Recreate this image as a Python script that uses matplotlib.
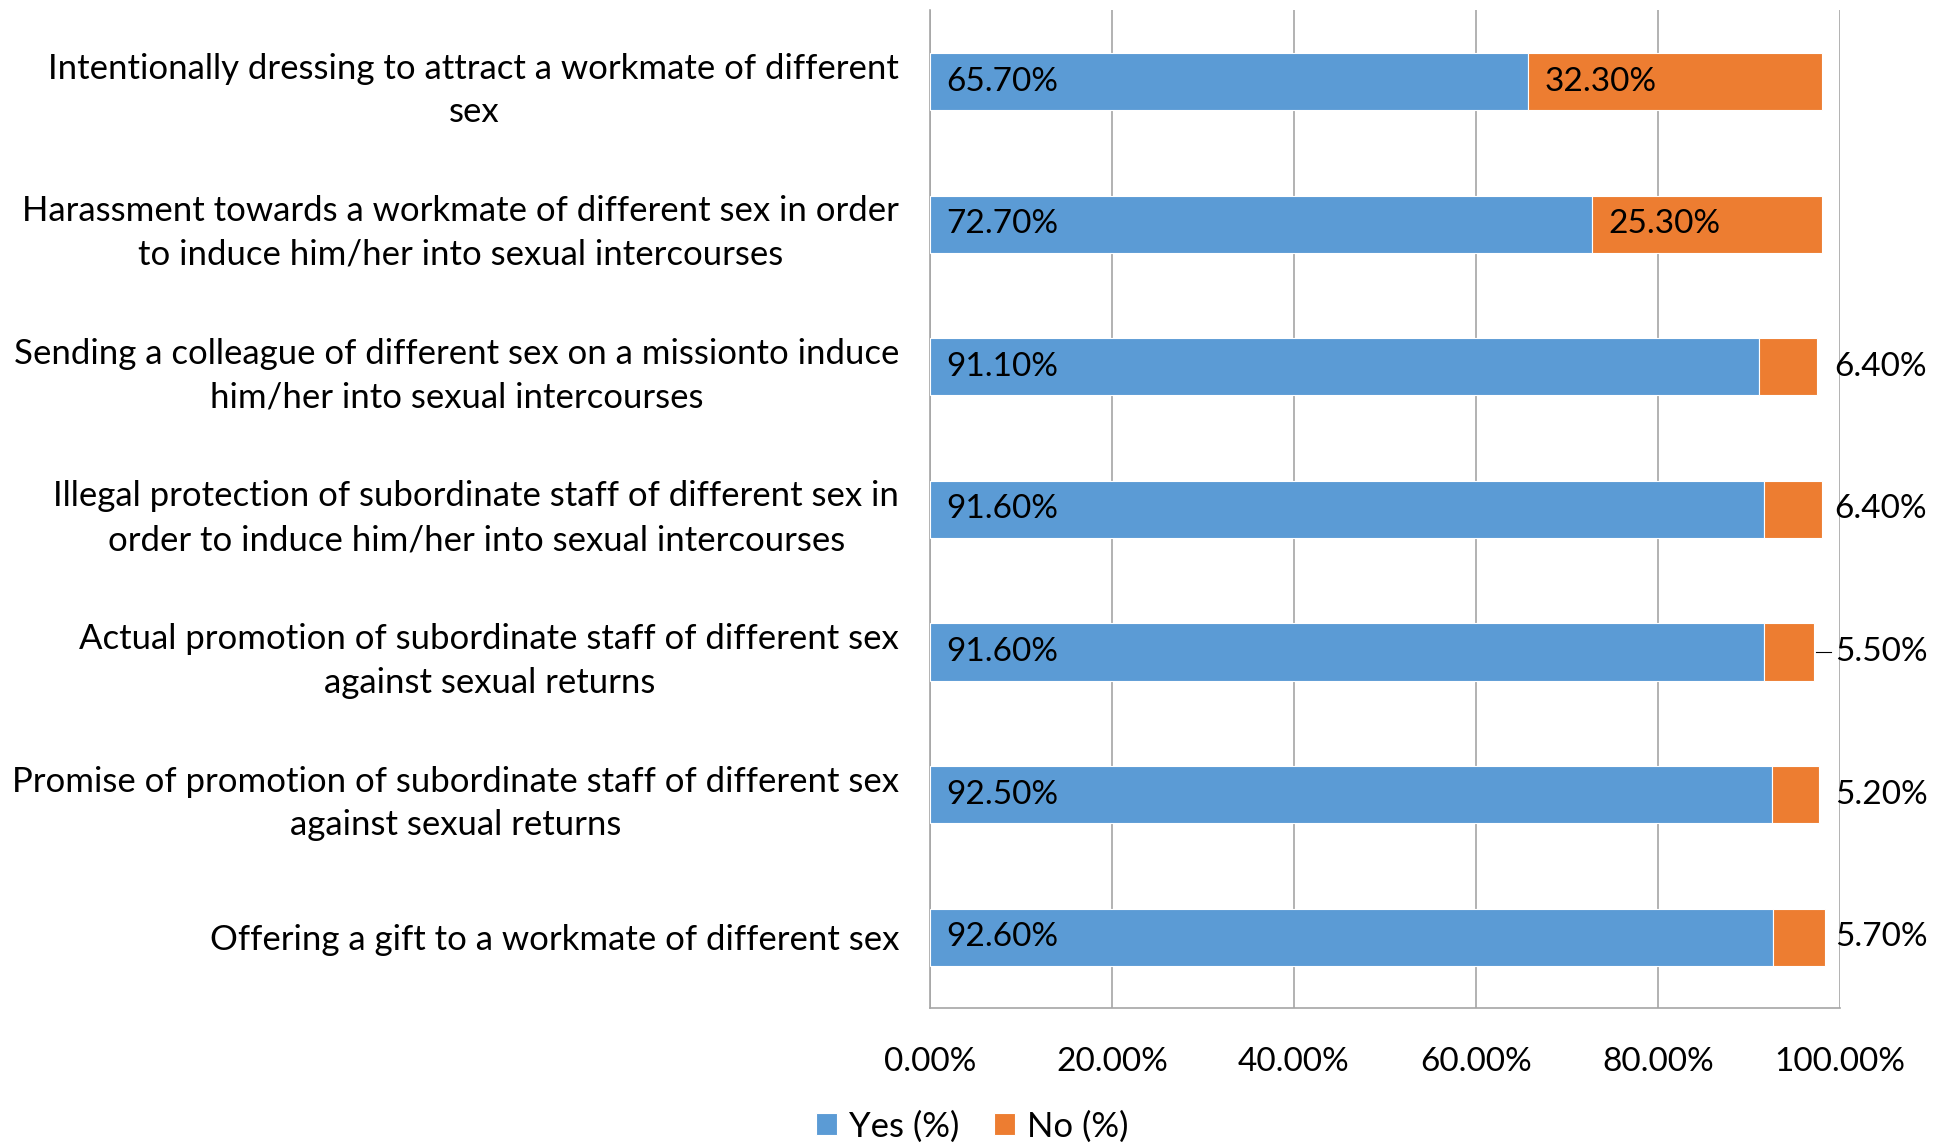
import matplotlib
matplotlib.use('agg')
import matplotlib.pyplot as plt
import numpy as np

CATEGORIES = [
    "Intentionally dressing to attract a workmate of different\nsex",
    "Harassment towards a workmate of different sex in order\nto induce him/her into sexual intercourses",
    "Sending a colleague of different sex on a missionto induce\nhim/her into sexual intercourses",
    "Illegal protection of subordinate staff of different sex in\norder to induce him/her into sexual intercourses",
    "Actual promotion of subordinate staff of different sex\nagainst sexual returns",
    "Promise of promotion of subordinate staff of different sex\nagainst sexual returns",
    "Offering a gift to a workmate of different sex",
]
YES = [65.7, 72.7, 91.1, 91.6, 91.6, 92.5, 92.6]
NO = [32.3, 25.3, 6.4, 6.4, 5.5, 5.2, 5.7]
XTICKS = [0, 20, 40, 60, 80, 100]

BLUE = '#5B9BD5'
ORANGE = '#ED7D31'
GRID = '#a6a6a6'
FS = 24
FS_CAT = 25

plt.rcParams['font.family'] = ['Lato', 'DejaVu Sans']

fig = plt.figure(figsize=(19.37, 11.46), dpi=100)
ax = fig.add_axes([0.480, 0.120, 0.470, 0.871])

y = np.arange(len(CATEGORIES))
yes = np.array(YES)
no = np.array(NO)

ax.barh(y, yes, height=0.4, color=BLUE, edgecolor='white', linewidth=0.8,
        label='Yes (%)', zorder=3)
ax.barh(y, no, left=yes, height=0.4, color=ORANGE, edgecolor='white',
        linewidth=0.8, label='No (%)', zorder=3)

# value labels
for i in range(len(y)):
    ax.text(1.8, y[i], '%.2f%%' % yes[i], va='center', ha='left',
            fontsize=FS, zorder=4)
    if no[i] > 10:
        ax.text(yes[i] + 1.8, y[i], '%.2f%%' % no[i], va='center',
                ha='left', fontsize=FS, zorder=4)
    else:
        ax.text(99.4, y[i], '%.2f%%' % no[i], va='center', ha='left',
                fontsize=FS, zorder=4)
        end = yes[i] + no[i]
        if 99.4 - end > 2.0:
            ax.plot([end + 0.2, 99.0], [y[i], y[i]], color='black', lw=0.8,
                    zorder=4)

ax.set_xlim(0, 100)
ax.set_ylim(len(y) - 0.5, -0.5)
ax.set_xticks(XTICKS)
ax.set_xticklabels(['%.2f%%' % v for v in XTICKS], fontsize=FS)
ax.set_yticks(y)
ax.set_yticklabels(CATEGORIES, fontsize=FS_CAT, multialignment='center',
                   linespacing=1.45)
ax.tick_params(axis='both', length=0)
ax.tick_params(axis='x', pad=28)
ax.tick_params(axis='y', pad=22)

ax.grid(axis='x', color=GRID, lw=1.2, zorder=0)
for s in ['top', 'right']:
    ax.spines[s].set_visible(False)
ax.spines['left'].set_color(GRID)
ax.spines['bottom'].set_color(GRID)
ax.spines['left'].set_linewidth(1.2)
ax.spines['bottom'].set_linewidth(1.2)

fig.legend(loc='center', bbox_to_anchor=(0.502, 0.017), ncol=2, frameon=False,
           fontsize=FS + 1, handlelength=0.6, handleheight=0.6,
           handletextpad=0.35, columnspacing=1.0)

plt.savefig('out.png')
